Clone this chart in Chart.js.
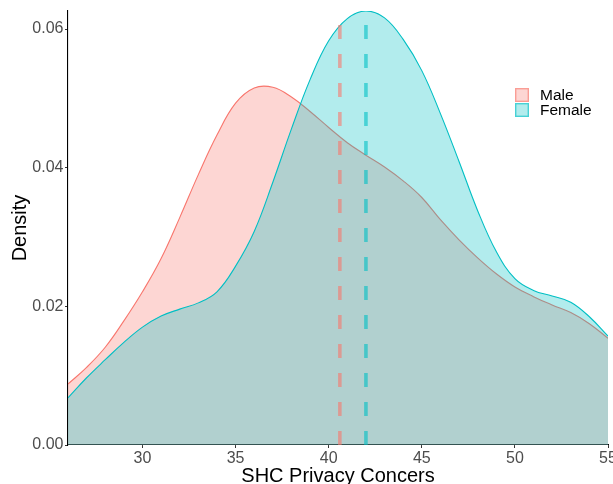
<!DOCTYPE html>
<html>
<head>
<meta charset="utf-8">
<script src="https://cdn.jsdelivr.net/npm/chart.js@4"></script>
<style>
  html, body { margin: 0; padding: 0; background: #fff; }
  #wrap { width: 613px; height: 484px; position: relative; }
</style>
</head>
<body>
<div id="wrap"><canvas id="c" width="613" height="484"></canvas></div>
<script>
// ---- data ----
const xValues = [26,27,28,29,30,31,32,33,34,35,36,37,38,39,40,41,42,43,44,45,46,47,48,49,50,51,52,53,54,55];
const maleDensity = [0.0088,0.0112,0.0141,0.0179,0.0221,0.0269,0.0328,0.0390,0.0447,0.0493,0.0515,0.0516,0.0502,0.0481,0.0458,0.0436,0.0418,0.0401,0.0381,0.0357,0.0325,0.0296,0.0270,0.0247,0.0228,0.0214,0.0202,0.0191,0.0175,0.0154];
const femaleDensity = [0.0068,0.0097,0.0123,0.0148,0.0170,0.0186,0.0196,0.0205,0.0221,0.0258,0.0308,0.0379,0.0456,0.0527,0.0583,0.0615,0.0626,0.0616,0.0585,0.0540,0.0478,0.0409,0.0338,0.0279,0.0240,0.0223,0.0215,0.0206,0.0185,0.0157];
const groupNames = ['Male', 'Female'];
const groupMeans = [40.6, 42.0];
const xTicks = [30, 35, 40, 45, 50, 55];
const yTicks = [0, 0.02, 0.04, 0.06];
const yMax = 0.0626;

const lineColors = ['#F8766D', '#00BFC4'];
const fillColors = ['rgba(248,118,109,0.3)', 'rgba(0,191,196,0.3)'];
const dashColors = ['rgba(248,118,109,0.6)', 'rgba(0,191,196,0.6)'];

const toPts = (ys) => xValues.map((x, i) => ({x: x, y: ys[i]}));
const series = [maleDensity, femaleDensity];

const datasets = [];
series.forEach((ys, i) => {
  datasets.push({
    label: groupNames[i],
    data: toPts(ys),
    borderColor: lineColors[i],
    backgroundColor: fillColors[i],
    borderWidth: 1.1,
    fill: 'origin',
    pointRadius: 0,
    tension: 0.4,
    order: 10 - i
  });
});
groupMeans.forEach((m, i) => {
  datasets.push({
    label: groupNames[i] + ' mean',
    data: [{x: m, y: 0}, {x: m, y: yMax}],
    borderColor: dashColors[i],
    borderWidth: 3.6,
    borderDash: [14, 15],
    fill: false,
    pointRadius: 0,
    order: 2 - i
  });
});

const legendPlugin = {
  id: 'customLegend',
  afterDraw(chart) {
    const ctx = chart.ctx;
    ctx.save();
    const bx = 515, by = 88, sz = 14, gap = 15;
    groupNames.forEach((name, i) => {
      const y = by + i * gap;
      ctx.fillStyle = '#fff';
      ctx.fillRect(bx, y, sz, sz);
      ctx.fillStyle = fillColors[i];
      ctx.fillRect(bx, y, sz, sz);
      ctx.strokeStyle = dashColors[i];
      ctx.lineWidth = 1.4;
      ctx.strokeRect(bx + 0.7, y + 0.7, sz - 1.4, sz - 1.4);
      ctx.fillStyle = '#000';
      ctx.font = '15.5px "Liberation Sans", Arial, sans-serif';
      ctx.textBaseline = 'middle';
      ctx.textAlign = 'left';
      ctx.fillText(name, 540, y + sz / 2 + 0.5);
    });
    ctx.restore();
  }
};

const fontFam = '"Liberation Sans", Arial, sans-serif';

new Chart(document.getElementById('c'), {
  type: 'line',
  data: { datasets: datasets },
  plugins: [legendPlugin],
  options: {
    responsive: false,
    animation: false,
    layout: { padding: { top: 11, right: 5, left: 0, bottom: 0 } },
    plugins: { legend: { display: false }, tooltip: { enabled: false } },
    scales: {
      x: {
        type: 'linear',
        min: 26, max: 55,
        afterBuildTicks: (s) => { s.ticks = xTicks.map(v => ({value: v})); },
        afterFit: (s) => { s.height = 39; s.paddingLeft = 0; s.paddingRight = 0; },
        ticks: {
          color: '#4D4D4D',
          font: { family: fontFam, size: 16 },
          padding: 1,
          maxRotation: 0,
          autoSkip: false,
          callback: (v) => String(v)
        },
        grid: { drawOnChartArea: false, drawTicks: true, tickLength: 3, color: '#333333', lineWidth: 1 },
        border: { display: true, color: '#000', width: 1.1 },
        title: {
          display: true,
          text: 'SHC Privacy Concers',
          color: '#000',
          font: { family: fontFam, size: 20, lineHeight: 1 },
          padding: { top: 0, bottom: -2 }
        }
      },
      y: {
        type: 'linear',
        min: 0, max: yMax,
        afterBuildTicks: (s) => { s.ticks = yTicks.map(v => ({value: v})); },
        afterFit: (s) => { s.width = 68; s.paddingTop = 0; s.paddingBottom = 0; },
        ticks: {
          color: '#4D4D4D',
          font: { family: fontFam, size: 16 },
          padding: 1.5,
          callback: (v) => Number(v).toFixed(2)
        },
        grid: { drawOnChartArea: false, drawTicks: true, tickLength: 3, color: '#333333', lineWidth: 1 },
        border: { display: true, color: '#000', width: 1.1 },
        title: {
          display: true,
          text: 'Density',
          color: '#000',
          font: { family: fontFam, size: 20, lineHeight: 1 },
          padding: { top: 10, bottom: 0 }
        }
      }
    }
  }
});
</script>
</body>
</html>
